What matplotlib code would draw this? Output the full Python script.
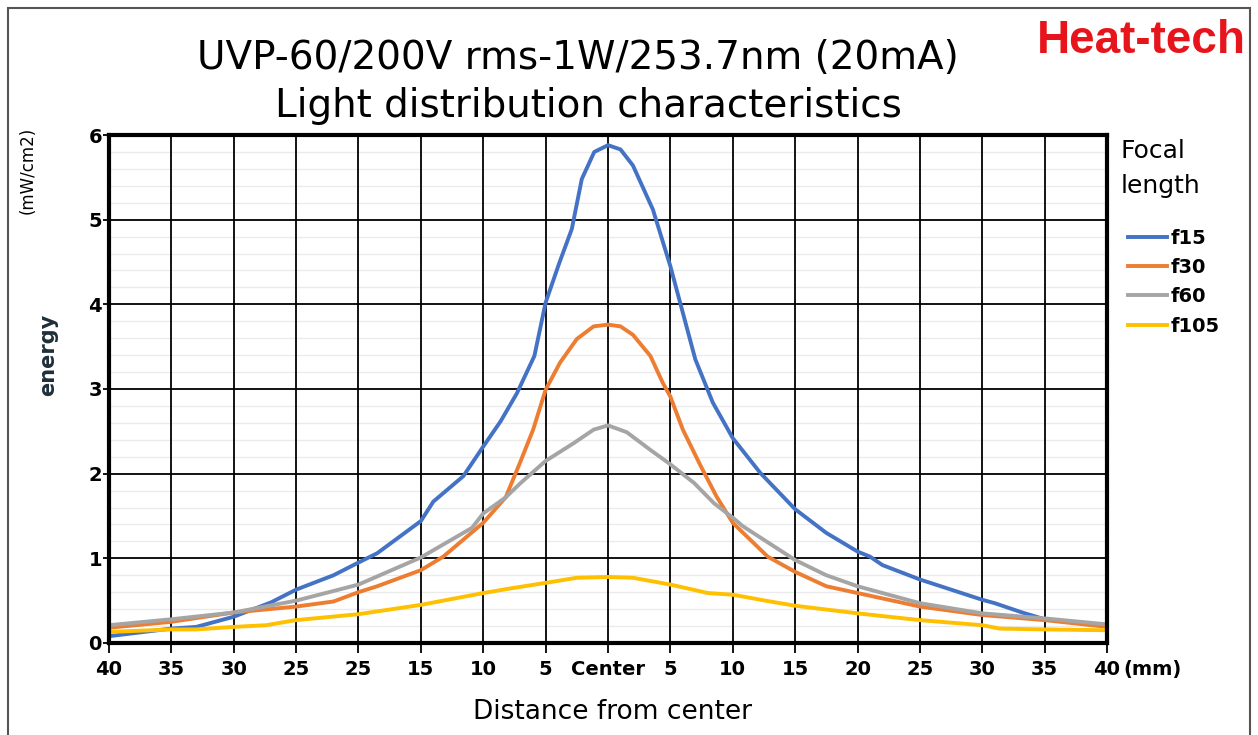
import matplotlib.pyplot as plt
from matplotlib.patches import Rectangle
from matplotlib.ticker import MultipleLocator

# DATA (mm from center, mW/cm2)
x_f15 = [-40, -35, -33, -30, -27, -25, -22, -20, -18.5, -15, -14, -11.6, -10, -8.6, -7.3, -5.9, -5, -3.9,
         -2.9, -2.1, -1.1, 0, 1, 2, 3.6, 5, 7, 8.4, 10, 12.2, 15, 17.5, 20, 21, 22, 25, 30, 31, 33.2, 35, 40]
y_f15 = [0.08, 0.17, 0.19, 0.31, 0.48, 0.63, 0.80, 0.95, 1.06, 1.44, 1.67, 1.97, 2.32, 2.62, 2.95, 3.39, 4.02, 4.49,
         4.89, 5.48, 5.80, 5.88, 5.83, 5.64, 5.12, 4.45, 3.35, 2.84, 2.42, 2.01, 1.58, 1.30, 1.08, 1.02, 0.92, 0.75, 0.51, 0.47, 0.36, 0.28, 0.21]

x_f30 = [-40, -35, -30, -25, -22, -20, -18.5, -15, -13.2, -10, -8.2, -7.05, -6, -5, -3.85, -2.5, -1.15, 0, 1, 2,
         3.4, 4.4, 5, 6, 7.4, 8.7, 10, 12.8, 15, 17.5, 20, 25, 30, 35, 40]
y_f30 = [0.18, 0.25, 0.36, 0.43, 0.49, 0.60, 0.67, 0.86, 1.02, 1.42, 1.72, 2.13, 2.52, 2.99, 3.31, 3.59, 3.74, 3.76, 3.74, 3.64,
         3.39, 3.07, 2.91, 2.52, 2.10, 1.73, 1.42, 1.02, 0.84, 0.67, 0.59, 0.43, 0.33, 0.27, 0.19]

x_f60 = [-40, -35, -30, -25, -20, -15, -10.9, -10, -8.2, -7, -5, -2.75, -1.15, 0, 1.5, 3.4, 5, 6.9, 8.5, 10,
         10.8, 15, 17.5, 20, 25, 30, 35, 40]
y_f60 = [0.21, 0.28, 0.36, 0.50, 0.69, 1.01, 1.36, 1.53, 1.72, 1.89, 2.15, 2.36, 2.52, 2.57, 2.49, 2.28, 2.11, 1.89, 1.65, 1.48,
         1.38, 0.98, 0.80, 0.67, 0.47, 0.35, 0.29, 0.22]

x_f105 = [-40, -35, -33, -30, -27.4, -25, -20, -15, -10, -8, -5, -2.5, 0, 2, 5, 8, 10, 13, 15, 20, 25, 30, 31.4, 35, 40]
y_f105 = [0.13, 0.16, 0.16, 0.19, 0.21, 0.27, 0.34, 0.45, 0.59, 0.64, 0.71, 0.77, 0.78, 0.77, 0.69, 0.59, 0.57, 0.49,
          0.44, 0.35, 0.27, 0.21, 0.17, 0.16, 0.15]

xticks = [-40, -35, -30, -25, -20, -15, -10, -5, 0, 5, 10, 15, 20, 25, 30, 35, 40]
xlabels = ['40', '35', '30', '25', '25', '15', '10', '5', 'Center', '5', '10', '15', '20', '25', '30', '35', '40']

series = [('f15', x_f15, y_f15, '#4472C4'),
          ('f30', x_f30, y_f30, '#ED7D31'),
          ('f60', x_f60, y_f60, '#A5A5A5'),
          ('f105', x_f105, y_f105, '#FFC000')]

fig = plt.figure(figsize=(12.58, 7.35), dpi=100)
fig.patches.append(Rectangle((0.0065, -0.01), 0.987, 0.999, transform=fig.transFigure,
                             fill=False, edgecolor='#555555', linewidth=1.5))

ax = fig.add_axes([0.0866, 0.1252, 0.7934, 0.6911])
for name, xs, ys, col in series:
    ax.plot(xs, ys, color=col, linewidth=2.8, label=name, solid_joinstyle='round')

ax.set_xlim(-40, 40)
ax.set_ylim(0, 6)
ax.set_xticks(xticks)
ax.set_xticklabels(xlabels)
ax.yaxis.set_major_locator(MultipleLocator(1))
ax.yaxis.set_minor_locator(MultipleLocator(0.2))
ax.grid(which='major', color='black', linewidth=1.3)
ax.grid(which='minor', axis='y', color='#ebebeb', linewidth=1.0)
ax.set_axisbelow(True)
ax.xaxis.set_zorder(0.6)   # vertical black lines over the light minor lines
ax.tick_params(axis='x', which='major', direction='out', length=7, width=1.3, labelsize=14, pad=5)
ax.tick_params(axis='y', which='major', direction='out', length=4, width=1.3, labelsize=14, pad=1)
ax.tick_params(axis='y', which='minor', length=0)
for lab in ax.get_xticklabels() + ax.get_yticklabels():
    lab.set_fontweight('bold')
for s in ax.spines.values():
    s.set_linewidth(3)

fig.text(0.893, 0.089, '(mm)', fontsize=14, fontweight='bold', va='center', ha='left')
fig.text(0.487, 0.031, 'Distance from center', fontsize=19, ha='center', va='center')
fig.text(0.038, 0.517, 'energy', fontsize=15, fontweight='bold', rotation=90, ha='center', va='center', color='#1f2f3a')
fig.text(0.022, 0.768, '(mW/cm2)', fontsize=12, rotation=90, ha='center', va='center')

fig.text(0.459, 0.921, 'UVP-60/200V rms-1W/253.7nm (20mA)', fontsize=28, ha='center', va='center')
fig.text(0.468, 0.856, 'Light distribution characteristics', fontsize=28, ha='center', va='center')
fig.text(0.907, 0.944, 'Heat-tech', fontsize=33, fontweight='bold', color='#e8141b', ha='center', va='center',
         family=['Liberation Sans', 'DejaVu Sans'])

fig.text(0.891, 0.794, 'Focal', fontsize=18, ha='left', va='center')
fig.text(0.891, 0.747, 'length', fontsize=18, ha='left', va='center')

leg = ax.legend(loc='upper left', bbox_to_anchor=(0.8967, 0.689), bbox_transform=fig.transFigure,
                frameon=False, fontsize=14, handlelength=2.0, handletextpad=0.2, labelspacing=0.53,
                borderpad=0, borderaxespad=0)
for t in leg.get_texts():
    t.set_fontweight('bold')

fig.savefig('out.png', dpi=100)
